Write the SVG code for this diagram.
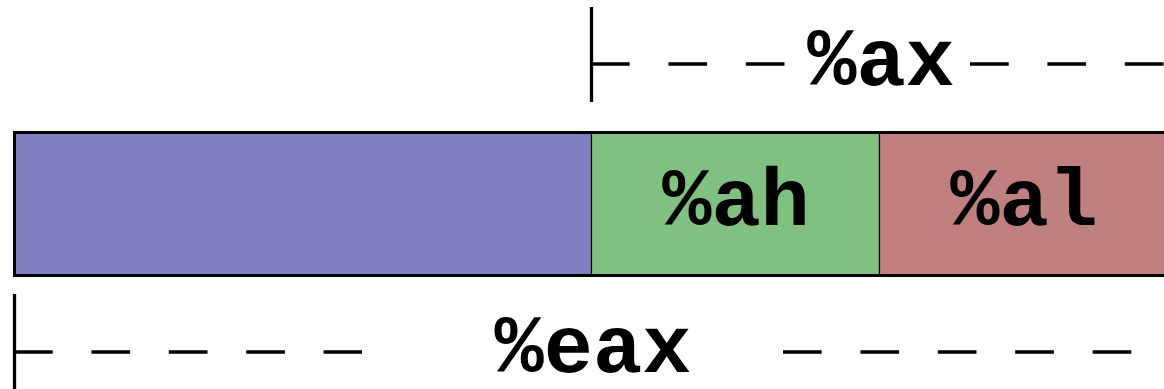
<svg xmlns="http://www.w3.org/2000/svg" width="1164" height="389" viewBox="0 0 1164 389">
<style>
.lbl{font-family:"Courier New","Liberation Mono",monospace;font-weight:bold;font-size:82px;fill:#000;text-anchor:middle}
.cell{stroke:#000;stroke-width:1.2}
.tick{stroke:#000;stroke-width:3.3;fill:none}
.dash{stroke:#000;stroke-width:3.6;fill:none;stroke-dasharray:38.7 38.7}
</style>
<rect width="1164" height="389" fill="#fff"/>
<g id="upper">
<rect class="cell" x="14.5" y="132.5" width="577" height="143" fill="#8080c0"/>
</g>
<g id="ah">
<rect class="cell" x="591.5" y="132.5" width="288" height="143" fill="#80c080"/>
<text class="lbl" x="736" y="225">%ah</text>
</g>
<g id="al">
<rect class="cell" x="879.5" y="132.5" width="288" height="143" fill="#c08080"/>
<text class="lbl" x="1024" y="225">%al</text>
</g>
<g id="eax-box">
<rect x="14.5" y="132.5" width="1153" height="143" fill="none" stroke="#000" stroke-width="3"/>
</g>
<g id="connectors">
<line class="tick" x1="591.5" y1="7" x2="591.5" y2="102"/>
<line class="dash" x1="591" y1="64" x2="785" y2="64"/>
<line class="dash" x1="970" y1="64" x2="1164" y2="64"/>
<line class="tick" x1="14.5" y1="294" x2="14.5" y2="389"/>
<line class="dash" x1="14" y1="352" x2="362" y2="352"/>
<line class="dash" x1="783" y1="352" x2="1164" y2="352"/>
</g>
<g id="ax">
<text class="lbl" x="881" y="85">%ax</text>
</g>
<g id="eax">
<text class="lbl" x="593" y="372">%eax</text>
</g>
</svg>
